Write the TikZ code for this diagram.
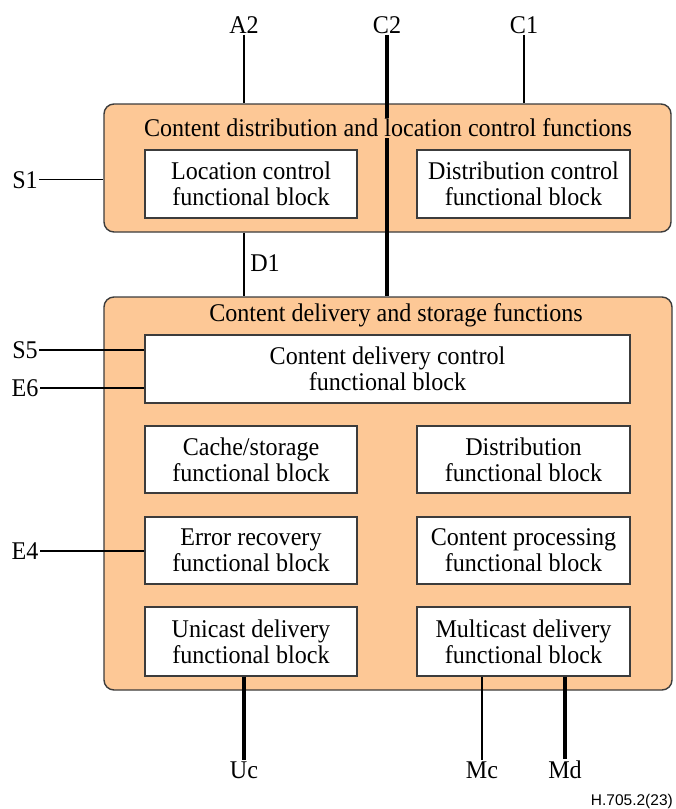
\documentclass[tikz,border=0pt]{standalone}
\usepackage{fontspec}
\setmainfont[FakeStretch=0.945]{Liberation Serif}
\newfontfamily\figfont{Liberation Sans}
\usetikzlibrary{positioning}

\definecolor{fnorange}{RGB}{253,200,150}
\definecolor{blkgray}{RGB}{60,60,60}

\begin{document}
\begin{tikzpicture}[x=1pt, y=-1pt,
    every node/.style={font=\fontsize{25.5}{26}\selectfont, align=center},
    group/.style={draw=blkgray, line width=1.4pt, rounded corners=10pt, fill=fnorange, inner sep=0pt},
    fblock/.style={draw=blkgray, line width=1.4pt, fill=white, inner sep=0pt, minimum height=68pt},
    ref/.style={inner sep=1.5pt, anchor=base},
    thin/.style={line width=1.2pt},
    thick/.style={line width=3.5pt}]
    \useasboundingbox (0,0) rectangle (676,809);

    % functional groups
    \node (cdl) [group, minimum width=567pt, minimum height=128pt] at (387.5,168) {};
    \node (cds) [group, minimum width=568pt, minimum height=393pt] at (388,493.5) {};

    % functional blocks
    \node (loc)   [fblock, minimum width=212pt] at (251,184) {Location control\\functional block};
    \node (dctl)  [fblock, minimum width=213pt] at (523.5,184) {Distribution control\\functional block};
    \node (cdc)   [fblock, minimum width=485pt] at (387.5,369) {Content delivery control\\functional block};
    \node (cache) [fblock, minimum width=212pt, minimum height=67pt] at (251,459.5) {Cache/storage\\functional block};
    \node (dist)  [fblock, minimum width=213pt, minimum height=67pt] at (523.5,459.5) {Distribution\\functional block};
    \node (err)   [fblock, minimum width=212pt, minimum height=67pt] at (251,550.5) {Error recovery\\functional block};
    \node (proc)  [fblock, minimum width=213pt, minimum height=67pt] at (523.5,550.5) {Content processing\\functional block};
    \node (uni)   [fblock, minimum width=212pt, minimum height=69pt] at (251,641.5) {Unicast delivery\\functional block};
    \node (multi) [fblock, minimum width=213pt, minimum height=69pt] at (523.5,641.5) {Multicast delivery\\functional block};

    % reference points
    \node (A2) [ref] at (244,33) {A2};
    \node (C2) [ref] at (387,33) {C2};
    \node (C1) [ref] at (524,33) {C1};
    \node (S1) [ref] at (25,188) {S1};
    \node (D1) [ref] at (265,271) {D1};
    \node (S5) [ref] at (25,358) {S5};
    \node (E6) [ref] at (25,396) {E6};
    \node (E4) [ref] at (25,559) {E4};
    \node (Uc) [ref] at (244,778) {Uc};
    \node (Mc) [ref] at (482,778) {Mc};
    \node (Md) [ref] at (565,778) {Md};

    % interfaces
    \draw[thin] (A2) -- (A2 |- cdl.north);
    \draw[thin] (C1) -- (C1 |- cdl.north);
    \draw[thick] (C2) -- (C2 |- cds.north);
    \draw[thin] (S1) -- (S1 -| cdl.west);
    \draw[thin] (A2 |- cdl.south) -- (A2 |- cds.north);
    \draw[thin] (S5.east |- 0,350) -- (cdc.west |- 0,350);
    \draw[thin] (E6.east |- 0,388) -- (cdc.west |- 0,388);
    \draw[thin] (E4.east |- 0,551) -- (err.west |- 0,551);
    \draw[thick] (Uc |- uni.south) -- (Uc);
    \draw[thin] (Mc |- multi.south) -- (Mc);
    \draw[thick] (Md |- multi.south) -- (Md);

    % group titles
    \node (cdlt) [fill=fnorange, inner sep=1pt] at (388,128) {Content distribution and location control functions};
    \node (cdst) [fill=fnorange, inner sep=1pt] at (396,315) {Content delivery and storage functions};

    \node (fig) [anchor=east, font=\figfont\fontsize{15.5}{17}\selectfont, inner sep=0pt] at (673,801) {H.705.2(23)};
\end{tikzpicture}
\end{document}
